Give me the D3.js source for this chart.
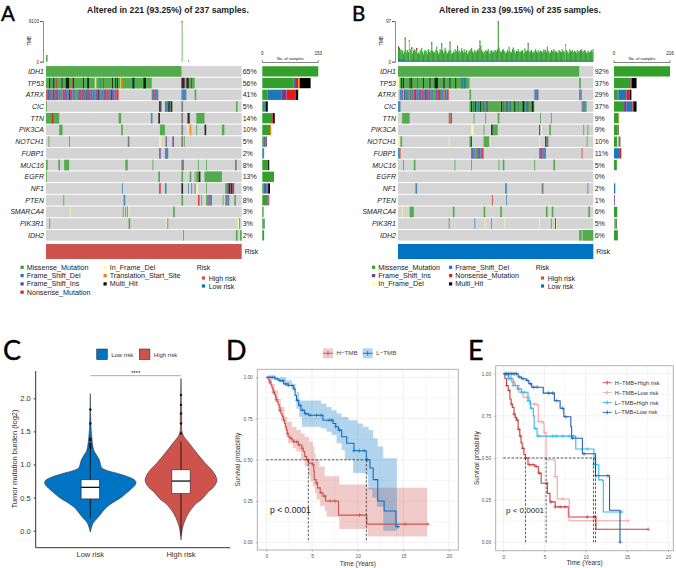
<!DOCTYPE html>
<html><head><meta charset="utf-8">
<script src="https://cdn.jsdelivr.net/npm/d3@7/dist/d3.min.js"></script>
<style>html,body{margin:0;padding:0;background:#fff}svg{display:block}text{font-family:"Liberation Sans",Arial,sans-serif;fill:#222}</style>
</head><body><svg id="c" width="676" height="568"></svg>
<script>
const genes=["IDH1","TP53","ATRX","CIC","TTN","PIK3CA","NOTCH1","FUBP1","MUC16","EGFR","NF1","PTEN","SMARCA4","PIK3R1","IDH2"];
const pctA=["65%","56%","41%","5%","14%","10%","5%","2%","8%","13%","9%","8%","3%","3%","2%"];
const pctB=["92%","37%","29%","37%","9%","9%","10%","11%","5%","0%","2%","1%","6%","5%","6%"];
const mutColors={M:"#33a02c",D:"#1f78b4",I:"#6a3d9a",N:"#e31a1c",F:"#ffff99",T:"#ff7f00",H:"#000000",G:"#666666"};
// oncoplot cells: [type, first sample, last sample]
const aIDH1=[["M",0,164]];
const aTP53=[["M",0,128],["H",4,5],["D",8,9],["H",9,10],["N",12,13],["H",19,20],["H",24,28],["N",32,33],["H",33,34],["H",45,46],["H",50,52],["F",59,61],["D",65,66],["N",69,70],["H",80,81],["H",84,85],["H",86,87],["F",90,91],["T",92,93],["D",104,105],["H",105,107],["H",118,121],["H",164,168],["N",169,170],["H",170,173],["M",173,176],["H",176,177],["M",177,180]];
const aATRX=[["N",0,1],["D",1,3],["H",3,4],["I",4,7],["D",7,9],["H",9,10],["N",10,12],["I",12,15],["D",15,18],["M",18,20],["N",20,22],["I",22,26],["D",26,28],["H",28,29],["N",29,32],["D",32,36],["M",36,39],["I",39,43],["N",43,46],["D",46,49],["H",49,50],["I",50,54],["N",54,56],["D",56,60],["I",60,63],["H",63,64],["N",64,66],["D",66,70],["I",70,73],["N",73,76],["D",76,79],["H",79,80],["I",80,83],["D",83,85],["N",85,88],["D",128,131],["N",131,132],["D",132,136],["D",164,170],["M",180,182]];
const aCIC=[["M",0,1],["H",137,139],["I",139,140],["D",144,148],["H",148,150],["M",150,151],["H",151,153],["G",164,166],["M",230,232]];
const aTTN=[["M",0,16],["N",7,9],["M",88,91],["D",127,129],["H",136,138],["G",164,166],["N",171,172],["H",172,174],["M",182,192]];
const aPIK3CA=[["M",16,20],["M",91,93],["M",138,144],["G",164,166],["F",171,172],["T",174,176],["M",182,183],["H",192,194],["M",213,216]];
const aNOTCH1=[["M",3,4],["M",28,29],["G",99,101],["F",137,139],["H",145,146],["I",153,155],["G",164,166],["M",167,168]];
const aFUBP1=[["I",137,139],["I",144,145],["D",145,148]];
const aMUC16=[["M",0,2],["M",15,17],["M",22,28],["M",96,99],["M",129,130],["G",164,167],["M",184,185],["M",194,195],["G",229,231]];
const aEGFR=[["M",0,1],["M",136,138],["M",164,166],["M",174,176],["M",180,181],["M",182,185],["H",185,187],["M",192,213]];
const aNF1=[["D",92,93],["N",137,139],["D",144,146],["H",164,166],["D",172,173],["I",176,177],["I",180,181],["F",182,184],["M",194,195],["M",217,219],["D",219,221],["H",221,223],["N",223,224],["H",224,226],["I",226,228]];
const aPTEN=[["M",21,22],["D",94,96],["M",164,166],["N",184,186],["M",188,189],["M",194,196],["I",196,197],["N",197,198],["D",198,201],["M",214,215],["M",217,218],["G",218,220],["D",220,222],["M",228,230]];
const aSMARCA4=[["F",29,30],["M",93,94],["M",96,97],["M",98,99],["F",100,101],["M",154,156]];
const aPIK3R1=[["M",4,5],["M",100,102],["F",145,146],["G",147,148],["F",232,234],["D",234,235]];
const aIDH2=[["M",166,167],["M",230,232],["M",235,237]];
const bIDH1=[["M",0,218]];
const bTP53=[["F",0,2],["M",2,86],["H",4,5],["H",6,7],["H",14,15],["H",16,17],["N",23,24],["H",30,31],["H",38,39],["H",44,48],["N",54,55],["H",55,56],["H",62,63],["H",69,70],["D",76,78],["D",79,82],["M",218,220]];
const bATRX=[["D",2,4],["I",4,6],["H",7,8],["D",8,12],["M",12,14],["I",14,16],["D",16,19],["N",19,21],["H",21,22],["D",22,25],["I",25,28],["N",28,30],["D",30,33],["H",33,34],["I",34,37],["N",37,39],["D",39,43],["M",43,45],["I",45,48],["N",48,50],["H",50,51],["D",51,55],["M",55,56],["N",56,58],["D",58,59],["N",59,61],["M",86,88],["D",164,167],["I",167,169],["D",218,220],["N",220,221]];
const bCIC=[["D",0,3],["M",86,164],["H",88,89],["D",90,92],["H",93,94],["D",96,98],["H",99,100],["D",102,104],["I",106,108],["T",122,123],["H",124,125],["D",126,128],["I",130,132],["D",134,136],["H",140,141],["D",144,145],["H",150,152],["D",154,156],["I",156,157],["H",161,163],["N",221,222],["D",222,225],["M",225,227]];
const bTTN=[["M",5,14],["M",61,63],["N",63,65],["M",91,92],["M",105,106],["M",120,122],["M",171,172],["M",184,185]];
const bPIK3CA=[["F",88,91],["M",103,104],["H",112,114],["M",114,120],["H",170,171],["F",172,173],["M",182,184],["M",223,224],["M",228,229]];
const bNOTCH1=[["F",0,2],["M",3,5],["F",61,62],["M",86,88],["H",88,89],["M",103,110],["F",110,111],["F",170,171],["H",177,178],["G",178,181],["M",227,228]];
const bFUBP1=[["D",0,2],["N",2,3],["I",88,91],["D",91,93],["M",93,95],["N",95,96],["I",96,99],["D",99,101],["N",101,103],["I",170,172],["N",172,174],["D",174,178],["N",221,222]];
const bMUC16=[["M",6,7],["M",19,21],["M",68,69],["M",88,89],["M",121,122],["M",126,128],["M",164,165],["M",187,189]];
const bEGFR=[];
const bNF1=[["D",21,23],["D",129,131],["G",173,175],["D",228,229]];
const bPTEN=[["N",113,114],["D",130,131]];
const bSMARCA4=[["F",5,6],["M",14,19],["M",66,68],["M",103,105],["M",123,125],["M",178,180],["M",185,187],["M",229,231]];
const bPIK3R1=[["G",61,62],["D",92,93],["F",104,105],["M",112,113],["F",128,129],["F",170,171],["M",184,185],["H",189,190],["F",190,191]];
const bIDH2=[["M",218,221],["M",222,235]];
const cellsA=[aIDH1,aTP53,aATRX,aCIC,aTTN,aPIK3CA,aNOTCH1,aFUBP1,aMUC16,aEGFR,aNF1,aPTEN,aSMARCA4,aPIK3R1,aIDH2];
const cellsB=[bIDH1,bTP53,bATRX,bCIC,bTTN,bPIK3CA,bNOTCH1,bFUBP1,bMUC16,bEGFR,bNF1,bPTEN,bSMARCA4,bPIK3R1,bIDH2];
// row bars: [type, count]
const sideA=[[["M",153]],[["M",85],["D",7],["N",6],["T",4],["H",30]],[["M",15],["D",37],["I",14],["N",25],["H",7]],[["M",5],["D",3],["I",1],["H",6]],[["M",27],["N",2],["H",5]],[["M",21],["T",3]],[["M",4],["I",3],["D",2],["G",4]],[["D",4],["I",1]],[["M",16],["H",3]],[["M",32]],[["M",4],["D",7],["I",3],["N",2],["H",5]],[["M",15],["N",2],["I",2]],[["M",4],["F",1]],[["M",3],["G",3],["D",1]],[["M",5]]];
const sideB=[[["M",216]],[["M",62],["G",3],["N",3],["H",19]],[["M",13],["I",4],["D",31],["N",13],["H",6]],[["M",39],["I",10],["D",22],["N",4],["H",12]],[["M",18],["T",2]],[["M",15],["F",2],["H",2]],[["M",13],["F",5],["H",2],["G",5]],[["D",20],["N",8]],[["M",11]],[],[["D",4],["G",1]],[["I",3]],[["M",13],["F",1]],[["M",3],["F",2],["G",6]],[["M",15]]];
const tmbAValues=[[0,1500],[164,9103],[172,350],[12,60],[25,50],[38,60],[50,50],[63,70],[75,60],[88,50],[100,60],[113,60],[125,70],[138,60],[150,70],[160,80],[168,90],[178,70],[188,80],[198,60],[208,70],[218,60],[228,70],[232,60]];
const tmbARedTop=[[164,320]];
const tmbBValues=[
36,33,30,22,28,26,18,24,58,27,20,28,22,52,30,24,34,19,26,30,
24,28,32,20,22,18,26,29,33,23,17,25,28,22,26,18,30,24,21,27,
47,26,22,24,20,28,36,25,18,22,30,26,44,28,20,24,33,27,22,19,
24,28,48,26,18,20,24,22,30,25,26,38,23,28,20,24,32,26,21,30,
22,24,28,18,22,27,25,30,33,24,20,26,28,22,24,29,26,32,50,38,
28,24,20,25,22,28,24,26,30,22,18,26,28,22,25,23,28,27,24,30,
97,34,26,22,24,28,30,26,24,20,22,28,24,36,25,23,22,30,34,28,
24,20,26,24,30,25,22,24,26,28,22,20,32,26,24,28,45,25,22,26,
28,22,24,20,26,30,24,22,28,20,25,27,24,22,26,30,24,28,22,36,
26,24,20,22,28,26,24,30,22,26,24,22,20,28,26,24,22,30,24,26,
22,42,28,24,22,20,30,26,24,28,22,24,26,24,20,28,22,26,24,28,
30,22,26,24,28,25,20,22,26,24,22,24,28,22,30];
const tmbBBase=[
6,6,5,5,6,5,6,4,3,3,2,2,3,2,3,2,3,2,3,3,2,3,2,3,2,2,3,2,2,3,2,3,2,2,3,2,3,2,2,3,
2,3,2,2,3,2,3,2,2,3,2,3,3,2,2,3,2,3,2,2,3,2,2,3,3,2,2,3,2,2,3,2,3,2,2,3,2,2,3,2,
3,2,2,3,2,3,2,3,2,2,3,2,2,3,2,3,3,2,2,3,2,3,2,2,3,2,3,2,3,2,2,3,2,2,3,2,3,2,3,2,
2,3,2,2,3,2,3,2,2,3,3,2,2,3,2,3,2,2,3,2,3,2,3,2,2,3,2,2,3,2,3,2,2,3,2,3,2,3,2,2,
3,2,2,3,2,3,2,2,3,3,2,3,2,2,3,2,3,2,2,3,2,2,3,2,3,2,2,3,2,3,2,3,2,2,3,2,3,2,2,3,
2,3,2,2,3,2,3,2,3,2,2,3,2,3,2,2,3,2,3,2,2,3,2,3,2,2,3,2,3,2,3,2,2,3,2];
const legendA=[["Missense_Mutation","M",0,0],["Frame_Shift_Del","D",0,1],["Frame_Shift_Ins","I",0,2],["Nonsense_Mutation","N",0,3],["In_Frame_Del","F",1,0],["Translation_Start_Site","T",1,1],["Multi_Hit","H",1,2]];
const legendB=[["Missense_Mutation","M",0,0],["Frame_Shift_Ins","I",0,1],["In_Frame_Del","F",0,2],["Frame_Shift_Del","D",1,0],["Nonsense_Mutation","N",1,1],["Multi_Hit","H",1,2]];
// violin: [value, density]
const violinLow=[[-.02,0],[.11,.06],[.21,.18],[.36,.365],[.51,.69],[.64,.91],[.69,.98],[.725,1],[.76,.98],[.80,.88],[.865,.60],[.91,.36],[.95,.25],[1.0,.225],[1.07,.195],[1.15,.13],[1.22,.075],[1.47,.025],[1.7,.01],[2.07,0]];
const violinHigh=[[-.14,0],[.06,.04],[.26,.16],[.41,.33],[.46,.43],[.51,.5],[.59,.6],[.65,.7],[.70,.755],[.765,.785],[.84,.75],[.92,.67],[1.02,.53],[1.17,.35],[1.32,.18],[1.47,.03],[1.72,.015],[2.3,0]];
const boxLow={q1:.48,med:.655,q3:.77,lo:.18,hi:1.27}, boxHigh={q1:.56,med:.75,q3:.92,lo:-.07,hi:1.35};
const outLow=[1.25,1.28,1.31,1.37,1.39,1.62,1.83], outHigh=[1.47,1.62,1.77,1.90,2.05];
// survival D: [time, probability]
const dH=[[0,1],[.2,.99],[.3,.98],[.4,.97],[.5,.955],[.6,.94],[.7,.925],[.8,.91],[.9,.895],[1,.88],[1.1,.865],[1.2,.85],[1.3,.835],[1.4,.82],[1.5,.80],[1.6,.78],[1.7,.77],[1.8,.76],[1.9,.74],[2,.72],[2.1,.70],[2.2,.68],[2.3,.66],[2.4,.64],[2.6,.63],[2.8,.62],[3,.61],[3.5,.59],[3.9,.57],[4.05,.55],[4.2,.52],[4.4,.50],[4.6,.48],[5.1,.47],[5.2,.43],[5.25,.38],[5.45,.36],[5.6,.33],[5.9,.30],[6.2,.28],[6.5,.25],[7.9,.165],[11,.11],[17.7,.11]];
const dHu=[[0,1],[.3,.99],[.6,.96],[.95,.92],[1.3,.87],[1.6,.82],[2,.76],[2.3,.73],[2.8,.70],[3.3,.68],[3.8,.66],[4.2,.64],[4.7,.61],[5.1,.58],[5.25,.54],[5.4,.5],[5.8,.46],[6.4,.40],[8,.35],[11.1,.33],[17.6,.33]];
const dHl=[[0,1],[.3,.96],[.6,.90],[.95,.85],[1.3,.79],[1.6,.74],[2,.68],[2.2,.64],[2.4,.60],[2.9,.57],[3.3,.55],[3.8,.50],[4.2,.46],[4.6,.40],[4.85,.37],[5.1,.34],[5.3,.30],[5.5,.26],[5.9,.22],[6.4,.19],[6.6,.155],[8,.08],[11.1,.035],[17.6,.035]];
const dL=[[0,1],[.95,.99],[1.4,.98],[1.9,.96],[2.4,.95],[3,.93],[3.15,.89],[3.3,.86],[3.55,.83],[3.8,.80],[4.2,.78],[4.6,.77],[6.2,.74],[6.4,.74],[7.3,.72],[7.6,.70],[7.9,.68],[8.25,.64],[8.8,.60],[9.6,.555],[10.95,.50],[11.35,.45],[11.7,.38],[12.2,.25],[12.9,.19],[14.2,.095],[14.56,.095]];
const dLu=[[0,1],[1.5,1],[2.2,.98],[2.8,.96],[3.2,.91],[3.6,.86],[5.2,.86],[6,.84],[6.6,.82],[7.15,.80],[7.7,.78],[8.25,.76],[9,.74],[10,.72],[10.6,.70],[11.2,.68],[11.7,.63],[12.2,.58],[12.8,.51],[14.3,.51]];
const dLl=[[0,1],[1.5,.97],[2.2,.95],[2.8,.92],[3.3,.81],[3.6,.76],[3.9,.70],[6,.69],[6.6,.67],[7.15,.65],[7.7,.60],[8.25,.56],[8.6,.50],[9.5,.42],[11,.41],[11.15,.32],[11.6,.27],[12.1,.215],[12.8,.07],[14.2,.07],[14.27,.015],[14.3,.015]];
const dHCens=[.4,.8,1.1,1.5,1.9,2.3,2.7,3,3.3,3.6,3.9,4.5,5.1,5.5,6,6.4,7,7.5,10.2,15.2,17.7];
const dLCens=[.3,.5,.7,.9,1.2,1.5,1.8,2.1,2.4,2.8,3.4,3.7,4,4.3,4.8,5.5,6,6.9,7.2,7.6,8,9.6,10.2,10.7,11.1,14.4];
// survival E
const eHH=[[.1,1],[.2,.97],[.4,.93],[.6,.90],[.8,.85],[.95,.82],[1.1,.80],[1.3,.76],[1.45,.74],[1.6,.725],[1.8,.67],[2,.63],[2.15,.59],[2.3,.557],[2.5,.52],[2.7,.50],[3,.46],[3.85,.45],[4.25,.41],[4.6,.35],[5.2,.35],[5.35,.29],[5.67,.24],[6.3,.21],[7.9,.15],[11.25,.077],[17.6,.077]];
const eHL=[[0,1],[.6,.98],[1,.95],[1.4,.93],[1.9,.89],[2.4,.86],[3.2,.82],[4.05,.815],[4.25,.715],[4.85,.705],[4.95,.65],[5.2,.49],[6.2,.485],[6.3,.39],[6.55,.257],[7.9,.257],[8,.128],[15.2,.128]];
const eLH=[[0,1],[.6,.97],[1.2,.93],[1.7,.91],[2.2,.89],[3,.84],[3.3,.795],[3.65,.75],[3.75,.675],[4.1,.63],[8.7,.63],[8.8,.553],[10.9,.553],[11,.46],[11.6,.37],[12.05,.365],[12.15,.18],[14.4,.18]];
const eLL=[[0,1],[1.8,.98],[2.2,.97],[2.8,.96],[3.1,.94],[3.45,.92],[4.4,.92],[4.85,.885],[6.07,.885],[6.2,.84],[6.76,.84],[6.9,.795],[7.35,.745],[7.8,.745],[8.2,.685],[8.3,.617],[9.5,.617],[9.6,.525],[11.2,.395],[12.85,.395],[12.9,.19],[14.17,0]];
const eHHCens=[.4,.7,1,1.3,1.5,1.7,1.9,2.1,2.4,2.7,3.2,3.6,4,4.4,5.3,5.8,6.3,6.9,7.5,10.2,11.1,17.6];
const eHLCens=[.8,1.3,1.8,2.3,2.8,3.3,3.8,4.3,4.7,5,6.3,7.2,15.2];
const eLHCens=[.3,.6,.9,1.2,1.5,1.8,2.2,2.6,3,3.4,3.9,4.3,6,6.4,7.2,8,8.5,10.2,11,14.4];
const eLLCens=[.2,.4,.6,.8,1,1.2,1.4,1.6,2,2.4,2.9,3.3,3.7,4.1,5.5,6,6.5,7.2,7.6,8.4,9.8,11.2,12.7,14.2];
const seriesE=[["H\u2212TMB+High risk","#c8413c",eHH,eHHCens],["H\u2212TMB+Low risk","#f5a3a3",eHL,eHLCens],["L\u2212TMB+High risk","#33b8ee",eLH,eLHCens],["L\u2212TMB+Low risk","#1c62ae",eLL,eLLCens]];
const survTicksX=[0,5,10,15,20], survTicksY=[0,.25,.5,.75,1];

const svg=d3.select("#c");
const txt=(g,x,y,s,size,o={})=>g.append("text").attr("x",x).attr("y",y).attr("font-size",size).attr("text-anchor",o.a||"start").attr("font-weight",o.w||null).attr("font-style",o.i?"italic":null).attr("transform",o.r?`rotate(${o.r} ${x} ${y})`:null).style("font-family",o.f||null).style("fill",o.c||null).text(s);

function onco(o){
  const g=svg.append("g");
  const x=d3.scaleLinear().domain([0,o.n]).range([o.x0,o.x1]);
  const y=d3.scaleBand().domain(o.genes).range([65.7,241]).paddingInner(.09).paddingOuter(.03);
  g.selectAll("rect.bg").data(o.genes).join("rect").attr("x",o.x0).attr("width",o.x1-o.x0).attr("y",d=>y(d)).attr("height",y.bandwidth()).attr("fill","#d4d4d4");
  o.genes.forEach((gn,i)=>{
    g.append("g").selectAll("rect").data(o.cells[i]).join("rect")
      .attr("x",d=>x(d[1])).attr("width",d=>Math.max(.8,x(d[2])-x(d[1]))).attr("y",y(gn)).attr("height",y.bandwidth())
      .attr("fill",d=>mutColors[d[0]]).attr("opacity",.8);
    txt(g,o.x0-2,y(gn)+y.bandwidth()/2+2.5,gn,7,{a:"end",i:1});
    txt(g,o.pctX,y(gn)+y.bandwidth()/2+2.5,o.pct[i],7);
    const sx=d3.scaleLinear().domain([0,o.sideMax]).range([o.sx0,o.sx1]);
    let c=0;
    o.side[i].forEach(s=>{g.append("rect").attr("x",sx(c)).attr("width",sx(c+s[1])-sx(c)).attr("y",y(gn)+.2).attr("height",y.bandwidth()-.4).attr("fill",mutColors[s[0]]);c+=s[1];});
  });
  g.append("rect").attr("x",o.x0).attr("width",o.x1-o.x0).attr("y",244).attr("height",15).attr("fill",o.risk);
  txt(g,o.x1+3,254,"Risk",7);
  const ty=d3.scaleLinear().domain([0,o.tmbMax]).range([61.7,21]);
  g.append("g").attr("transform",`translate(${o.x0-3},0)`).call(d3.axisLeft(ty).tickValues([0,o.tmbMax]).tickFormat(d3.format("d")).tickSize(3)).call(a=>{a.select(".domain").attr("stroke","#444").attr("stroke-width",.6);a.selectAll("line").attr("stroke","#444").attr("stroke-width",.6);a.selectAll("text").attr("font-size",4.6).attr("font-family","Liberation Sans").style("fill","#333").attr("x",-4);});
  txt(g,o.x0-15,41,"TMB",4.6,{a:"middle",r:-90});
  o.drawTmb(g,x,ty);
  const sx=d3.scaleLinear().domain([0,o.sideMax]).range([o.sx0,o.sx1]);
  g.append("path").attr("d",`M${o.sx0},60.2V62.5H${o.sx1}V60.2`).attr("fill","none").attr("stroke","#333").attr("stroke-width",.6);
  txt(g,sx(0),55,"0",4.6,{a:"middle"});txt(g,sx(o.sideMax),55,String(o.sideMax),4.6,{a:"middle"});
  txt(g,(o.sx0+o.sx1)/2,60.3,"No. of samples",4,{a:"middle"});
  txt(g,o.titleX,13,o.title,8.7,{a:"middle",w:"bold"});
  o.legend.forEach(l=>{
    const lx=l[2]?o.lx[1]:o.lx[0], ly=267.3+l[3]*8.3;
    g.append("rect").attr("x",lx).attr("y",ly-1.6).attr("width",3.2).attr("height",3.2).attr("fill",mutColors[l[1]]);
    txt(g,lx+6.2,ly+2.5,l[0],7.2);
  });
  txt(g,o.lx[2],269.8,"Risk",7);
  [["High risk","#cd534c",278],["Low risk","#0073c2",286]].forEach(r=>{
    g.append("rect").attr("x",o.lx[2]+5.2).attr("y",r[2]-1.6).attr("width",3.2).attr("height",3.2).attr("fill",r[1]);
    txt(g,o.lx[2]+12,r[2]+2.5,r[0],7);
  });
}
onco({n:237,x0:46,x1:241.7,genes,cells:cellsA,pct:pctA,side:sideA,sideMax:153,sx0:262.3,sx1:318.3,pctX:242.7,risk:"#cd534c",tmbMax:9103,titleX:168,title:"Altered in 221 (93.25%) of 237 samples.",legend:legendA,lx:[20.5,103.5,196.7],
 drawTmb:(g,x,ty)=>{
  g.append("g").selectAll("rect").data(tmbAValues).join("rect").attr("x",d=>x(d[0])).attr("width",d=>d[1]>1000?1.6:1).attr("y",d=>ty(d[1])).attr("height",d=>ty(0)-ty(d[1])).attr("fill","#33a02c").attr("opacity",d=>d[1]>5000?.45:(d[1]>200?.85:.25));
  g.append("g").selectAll("rect").data(tmbARedTop).join("rect").attr("x",d=>x(d[0])).attr("width",1.6).attr("y",ty(9103)).attr("height",d=>ty(0)-ty(d[1])).attr("fill","#e31a1c").attr("opacity",.5);
 }});
onco({n:235,x0:398,x1:593.3,genes,cells:cellsB,pct:pctB,side:sideB,sideMax:216,sx0:614,sx1:670,pctX:594.7,risk:"#0073c2",tmbMax:97,titleX:520,title:"Altered in 233 (99.15%) of 235 samples.",legend:legendB,lx:[372,449,535.7],
 drawTmb:(g,x,ty)=>{
  const bw=x(1)-x(0);
  g.append("g").selectAll("rect").data(tmbBValues).join("rect").attr("x",(d,i)=>x(i)).attr("width",bw+.25).attr("y",d=>ty(d)).attr("height",d=>ty(0)-ty(d)).attr("fill","#35a131").attr("opacity",(d,i)=>d>40&&i%2?.55:1);
  g.append("g").selectAll("rect").data(tmbBValues.filter(d=>d>30)).join("rect").attr("x",d=>x(tmbBValues.indexOf(d))).attr("width",bw).attr("y",d=>ty(d)).attr("height",1.4).attr("fill","#e31a1c").attr("opacity",.7);
  g.append("g").selectAll("rect").data(tmbBBase).join("rect").attr("x",(d,i)=>x(i)).attr("width",bw).attr("y",d=>ty(d)).attr("height",d=>ty(0)-ty(d)).attr("fill","#1f78b4");
 }});

// C violin
(function(){
  const g=svg.append("g");
  const y=d3.scaleLinear().domain([0,2]).range([530.7,398.3]);
  const x=d3.scaleOrdinal().domain(["Low risk","High risk"]).range([90.3,181]);
  const w=d3.scaleLinear().domain([0,1]).range([0,45.7]);
  const draw=(name,prof,box,out,col)=>{
    const cx=x(name);
    g.append("path").datum(prof).attr("d",d3.area().curve(d3.curveCatmullRom).y(d=>y(d[0])).x0(d=>cx-w(d[1])).x1(d=>cx+w(d[1]))).attr("fill",col).attr("stroke","#333").attr("stroke-width",.6);
    g.append("line").attr("x1",cx).attr("x2",cx).attr("y1",y(box.lo)).attr("y2",y(box.hi)).attr("stroke","#111").attr("stroke-width",.9);
    g.append("rect").attr("x",cx-9.2).attr("width",18.4).attr("y",y(box.q3)).attr("height",y(box.q1)-y(box.q3)).attr("fill","#fff").attr("stroke","#333").attr("stroke-width",.7);
    g.append("line").attr("x1",cx-9.2).attr("x2",cx+9.2).attr("y1",y(box.med)).attr("y2",y(box.med)).attr("stroke","#111").attr("stroke-width",1.3);
    g.append("g").selectAll("circle").data(out).join("circle").attr("cx",cx).attr("cy",d=>y(d)).attr("r",1.2).attr("fill","#111");
  };
  draw("Low risk",violinLow,boxLow,outLow,"#0073c2");
  draw("High risk",violinHigh,boxHigh,outHigh,"#cd534c");
  g.append("g").attr("transform","translate(35.7,0)").call(d3.axisLeft(y).tickValues([0,.5,1,1.5,2]).tickFormat(d3.format(".1f")).tickSize(2)).call(a=>{a.select(".domain").attr("d","M0,371V547.7").attr("stroke","#333");a.selectAll("line").attr("stroke","#333");a.selectAll("text").attr("font-size",7.5).attr("font-family","Liberation Sans").style("fill","#333");});
  g.append("line").attr("x1",35.7).attr("x2",230).attr("y1",547.7).attr("y2",547.7).attr("stroke","#333");
  ["Low risk","High risk"].forEach(n=>txt(g,x(n),557,n,7.5,{a:"middle",c:"#333"}));
  txt(g,17,459,"Tumor mutation burden (log2)",7.5,{a:"middle",r:-90,c:"#333"});
  g.append("line").attr("x1",90.3).attr("x2",181).attr("y1",375.7).attr("y2",375.7).attr("stroke","#aaa");
  txt(g,135.6,374.5,"****",6,{a:"middle"});
  [[96.7,"#0073c2","Low risk"],[139.3,"#cd534c","High risk"]].forEach(l=>{
    g.append("rect").attr("x",l[0]).attr("y",349).attr("width",10.6).attr("height",10.6).attr("fill",l[1]).attr("stroke","#333").attr("stroke-width",.6);
    txt(g,l[0]+14.5,356.5,l[2],6,{c:"#333"});
  });
})();

function survFrame(o){
  const g=svg.append("g");
  const x=d3.scaleLinear().domain([0,20]).range(o.xr), y=d3.scaleLinear().domain([0,1]).range(o.yr);
  const f=o.frame;
  const grid=g.append("g").attr("stroke","#ececec");
  [2.5,7.5,12.5,17.5].forEach(t=>grid.append("line").attr("x1",x(t)).attr("x2",x(t)).attr("y1",f[2]).attr("y2",f[3]).attr("stroke-width",.4));
  [.125,.375,.625,.875].forEach(t=>grid.append("line").attr("y1",y(t)).attr("y2",y(t)).attr("x1",f[0]).attr("x2",f[1]).attr("stroke-width",.4));
  survTicksX.forEach(t=>grid.append("line").attr("x1",x(t)).attr("x2",x(t)).attr("y1",f[2]).attr("y2",f[3]).attr("stroke-width",.8));
  survTicksY.forEach(t=>grid.append("line").attr("y1",y(t)).attr("y2",y(t)).attr("x1",f[0]).attr("x2",f[1]).attr("stroke-width",.8));
  g.append("g").attr("transform",`translate(0,${f[3]})`).call(d3.axisBottom(x).tickValues(survTicksX).tickSize(1.5)).call(st);
  g.append("g").attr("transform",`translate(${f[0]},0)`).call(d3.axisLeft(y).tickValues(survTicksY).tickFormat(d3.format(".2f")).tickSize(1.5)).call(st);
  function st(a){a.select(".domain").remove();a.selectAll("line").attr("stroke","#555").attr("stroke-width",.5);a.selectAll("text").attr("font-size",4.8).attr("font-family","Liberation Sans").style("fill","#555");}
  txt(g,(f[0]+f[1])/2,o.xlY,"Time (Years)",6.4,{a:"middle",c:"#333"});
  txt(g,o.ylX,(f[2]+f[3])/2,"Survival probability",6.4,{a:"middle",r:-90,c:"#333"});
  return {g,x,y,f};
}
const stepLine=(x,y)=>d3.line().curve(d3.curveStepAfter).x(d=>x(d[0])).y(d=>y(d[1]));
function stepAt(s,t){let v=s[0][1];for(const p of s){if(p[0]<=t)v=p[1];}return v;}
function ribbon(g,x,y,up,lo,col){
  const ts=Array.from(new Set(up.map(d=>d[0]).concat(lo.map(d=>d[0])))).sort((a,b)=>a-b);
  g.append("path").datum(ts).attr("d",d3.area().curve(d3.curveStepAfter).x(t=>x(t)).y0(t=>y(stepAt(lo,t))).y1(t=>y(stepAt(up,t)))).attr("fill",col).attr("opacity",.3);
}
function curve(g,x,y,s,cens,col,sw){
  g.append("path").datum(s).attr("d",stepLine(x,y)).attr("fill","none").attr("stroke",col).attr("stroke-width",sw);
  g.append("g").selectAll("path").data(cens).join("path").attr("d","M-2,0H2M0,-2V2").attr("transform",t=>`translate(${x(t)},${y(stepAt(s,t))})`).attr("stroke",col).attr("stroke-width",.6).attr("fill","none");
}
const dash=(g,a,b,c,d)=>g.append("line").attr("x1",a).attr("y1",b).attr("x2",c).attr("y2",d).attr("stroke","#333").attr("stroke-width",.8).attr("stroke-dasharray","2.5,1.6");
function border(S){S.g.append("rect").attr("x",S.f[0]).attr("y",S.f[2]).attr("width",S.f[1]-S.f[0]).attr("height",S.f[3]-S.f[2]).attr("fill","none").attr("stroke","#aaa").attr("stroke-width",.9);}

// D
(function(){
  const S=survFrame({xr:[266.3,449],yr:[542.3,377.3],frame:[257.3,458.3,369.3,550],xlY:566,ylX:240});
  const {g,x,y}=S;
  ribbon(g,x,y,dHu,dHl,"#cd534c");ribbon(g,x,y,dLu,dLl,"#0073c2");
  curve(g,x,y,dH,dHCens,"#cd534c",1.1);curve(g,x,y,dL,dLCens,"#0f6fc0",1.1);
  dash(g,x(0),y(.5),x(11),y(.5));
  [4.6,10.95].forEach(t=>dash(g,x(t),y(.5),x(t),y(0)));
  txt(g,270,513,"p < 0.0001",8.6,{c:"#222"});
  border(S);
  [[323,"#cd534c","H\u2212TMB"],[362.7,"#0073c2","L\u2212TMB"]].forEach(l=>{
    g.append("rect").attr("x",l[0]).attr("y",348.3).attr("width",10).attr("height",10).attr("fill",l[1]).attr("opacity",.3);
    g.append("path").attr("d",`M${l[0]},353.3h10M${l[0]+5},351v4.6`).attr("stroke",l[1]).attr("stroke-width",.9);
    txt(g,l[0]+13.5,355.4,l[2],6.2,{c:"#444"});
  });
})();
// E
(function(){
  const S=survFrame({xr:[503.3,668],yr:[542.3,373.7],frame:[495.7,673.3,365.7,550.7],xlY:565,ylX:479});
  const {g,x,y}=S;
  seriesE.forEach(s=>curve(g,x,y,s[2],s[3],s[1],1.1));
  dash(g,x(0),y(.5),x(11.2),y(.5));
  [2.7,5.2,10.95,11.2].forEach(t=>dash(g,x(t),y(.5),x(t),y(0)));
  txt(g,506,512.5,"p < 0.0001",8,{c:"#222"});
  border(S);
  seriesE.forEach((s,i)=>{
    const yy=382.7+i*9.9;
    g.append("path").attr("d",`M602.7,${yy}h9M607.2,${yy-2}v4`).attr("stroke",s[1]).attr("stroke-width",.9);
    txt(g,614.7,yy+2,s[0],5.7,{c:"#333"});
  });
})();
// panel letters
[["A",1,20.5,20.5],["B",352,20.5,20.5],["C",3,360,27],["D",226,359.5,27],["E",468,360,27]].forEach(l=>txt(svg,l[1],l[2],l[0],l[3],{f:"Lato",c:"#000"}).attr("stroke","#000").attr("stroke-width",.4));
</script></body></html>
